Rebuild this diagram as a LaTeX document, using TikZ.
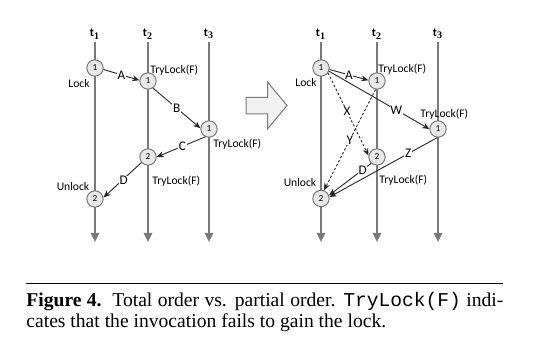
\documentclass[tikz,border=0pt]{standalone}
\usepackage{fontspec}
\setmainfont{Liberation Serif}
\setmonofont{Liberation Mono}
\newfontfamily\diagfont{Carlito}
\usetikzlibrary{arrows.meta}
\definecolor{linegray}{HTML}{7A7A7A}
\definecolor{circgray}{HTML}{6E6E6E}
\definecolor{circfill}{HTML}{E8E8E8}
\definecolor{bigfill}{HTML}{F2F2F2}
\begin{document}
\begin{tikzpicture}[x=0.5pt,y=-0.5pt,
  thread/.style={draw=linegray,line width=0.75pt,-{Triangle[width=4.2pt,length=4.5pt]}},
  ev/.style={circle,draw=circgray,fill=circfill,minimum size=8.2pt,inner sep=0pt,line width=0.45pt,font=\diagfont\fontsize{4.6}{5}\selectfont},
  msg/.style={draw=black!85,line width=0.45pt,-{Stealth[length=3.6pt,width=3pt]}},
  dmsg/.style={msg,dash pattern=on 1.2pt off 1pt},
  lbl/.style={font=\diagfont\fontsize{6.6}{7}\selectfont,fill=white,inner sep=0.3pt},
  txt/.style={font=\diagfont\fontsize{5.8}{7}\selectfont,inner sep=0pt},
  tlab/.style={font=\diagfont\bfseries\fontsize{6}{7}\selectfont,inner sep=0pt}]
\useasboundingbox (0,0) rectangle (545,340);
% ---------- left diagram ----------
\foreach \n/\x in {1/95,2/148,3/209}{
  \node[tlab] (Lt\n) at (\x,34) {t$_{\mathbf{\n}}$};
  \coordinate (Ltop\n) at (\x,42);
  \coordinate (Lbot\n) at (\x,242);
  \draw[thread] (Ltop\n) -- (Lbot\n);
}
\node[ev] (L1a) at (95,68) {1};
\node[ev] (L2a) at (148,81) {1};
\node[ev] (L3a) at (209,129) {1};
\node[ev] (L2b) at (148,157) {2};
\node[ev] (L1b) at (95,199) {2};
\draw[msg] (L1a.-10) -- (L2a.175) node[lbl,pos=0.5] (LA) {A};
\draw[msg] (L2a.-55) -- (L3a.175) node[lbl,pos=0.5] (LB) {B};
\draw[msg] (L3a.-115) -- (L2b.east) node[lbl,pos=0.47] (LC) {C};
\draw[msg] (L2b.-140) -- (L1b.10) node[lbl,pos=0.52,xshift=1pt] (LD) {D};
\node[txt] (Llock) at (79,84) {Lock};
\node[txt] (Lunlock) at (73,187) {Unlock};
\node[txt,anchor=west] (Ltry1) at (150,70) {TryLock(F)};
\node[txt,anchor=west] (Ltry2) at (213,144) {TryLock(F)};
\node[txt,anchor=west] (Ltry3) at (152,181) {TryLock(F)};
% ---------- big arrow ----------
\draw[draw=linegray,fill=bigfill,line width=0.5pt,line join=miter]
  (246,97.5) -- (267.5,97.5) -- (267.5,82) -- (287,105.5) -- (267.5,129) -- (267.5,114) -- (246,114) -- cycle;
% ---------- right diagram ----------
\foreach \n/\x in {1/321,2/377,3/438}{
  \node[tlab] (Rt\n) at (\x,34) {t$_{\mathbf{\n}}$};
  \coordinate (Rtop\n) at (\x,42);
  \coordinate (Rbot\n) at (\x,242);
  \draw[thread] (Rtop\n) -- (Rbot\n);
}
\node[ev] (R1a) at (321,68) {1};
\node[ev] (R2a) at (377,81) {1};
\node[ev] (R3a) at (438,129) {1};
\node[ev] (R2b) at (377,157) {2};
\node[ev] (R1b) at (321,198.5) {2};
\draw[msg] (R1a.-10) -- (R2a.175) node[lbl,pos=0.5] (RA) {A};
\draw[msg] (R1a.-22) -- (R3a.180) node[lbl,pos=0.67] (RW) {W};
\draw[dmsg] (R1a.-35) -- (R2b.170) node[lbl,pos=0.47] (RX) {X};
\draw[dmsg] (R2a.-100) -- (R1b.70) node[lbl,pos=0.5] (RY) {Y};
\draw[msg] (R3a.-95) -- (R1b.10) node[lbl,pos=0.27] (RZ) {Z};
\draw[msg] (R2b.-132) -- (R1b.22) node[lbl,pos=0.2] (RD) {D};
\node[txt] (Rlock) at (306,83) {Lock};
\node[txt] (Runlock) at (300,183) {Unlock};
\node[txt,anchor=west] (Rtry1) at (378,69) {TryLock(F)};
\node[txt,anchor=west] (Rtry2) at (420,114) {TryLock(F)};
\node[txt,anchor=west] (Rtry3) at (379,180) {TryLock(F)};
% ---------- caption ----------
\draw[line width=0.5pt] (26,284) -- (503,284);
\node[anchor=base west,inner sep=0pt,font=\fontsize{9.8}{10.8}\selectfont] (cap1) at (26,306.5)
  {\makebox[238.5pt][s]{\textbf{Figure 4.}\ \ Total order vs. partial order. \texttt{TryLock(F)} indi-}};
\node[anchor=base west,inner sep=0pt,font=\fontsize{9.8}{10.8}\selectfont] (cap2) at (26,328)
  {cates that the invocation fails to gain the lock.};
\end{tikzpicture}
\end{document}
